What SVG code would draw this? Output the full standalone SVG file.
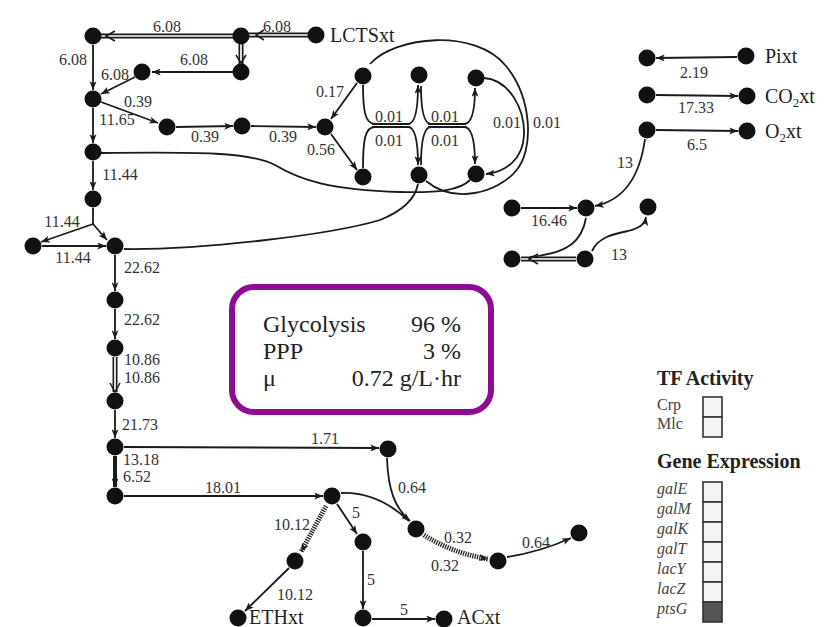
<svg xmlns="http://www.w3.org/2000/svg" width="830" height="627" viewBox="0 0 830 627">
<defs>
<marker id="ah" viewBox="0 0 10 8" refX="10" refY="4" markerWidth="9" markerHeight="7" markerUnits="userSpaceOnUse" orient="auto">
<path d="M0,0 L10,4 L0,8 L2.5,4 z" fill="#1a1a1a"/>
</marker>
<style>
.lbl{font-family:"Liberation Serif",serif;font-size:16px;fill:#333;text-anchor:middle}
.name{font-family:"Liberation Serif",serif;font-size:20px;fill:#222}
.ln{fill:none;stroke:#1a1a1a;stroke-width:1.8}
.arr{marker-end:url(#ah)}
.dblo{fill:none;stroke:#1a1a1a;stroke-width:5}
.dbli{fill:none;stroke:#fff;stroke-width:1.7}
.chev{fill:none;stroke:#1a1a1a;stroke-width:1.5}
.thick{fill:none;stroke:#1a1a1a;stroke-width:4}
.hat{fill:none;stroke:#222;stroke-width:5;stroke-dasharray:1.3 1.1}
.nd{fill:#111}
.box{font-family:"Liberation Serif",serif;font-size:24px;fill:#222}
.lgt{font-family:"Liberation Serif",serif;font-size:20px;font-weight:bold;fill:#222}
.lgl{font-family:"Liberation Serif",serif;font-size:16px;fill:#444}
.lgi{font-family:"Liberation Serif",serif;font-size:16px;font-style:italic;fill:#444}
.cell{fill:#f4f4f4;stroke:#333;stroke-width:1.6}
</style>
</defs>
<rect width="830" height="627" fill="#fff"/>

<g id="connectors">
<path class="dblo" d="M249,35 L308,35"/><path class="dbli" d="M249,35 L308,35"/>
<polyline class="chev" points="264,30 256,35 264,40"/>
<path class="dblo" d="M101,36 L233,36"/><path class="dbli" d="M101,36 L233,36"/>
<polyline class="chev" points="115,31 106,36 115,41"/>
<path class="dblo" d="M241,44 L241,64"/><path class="dbli" d="M241,44 L241,64"/>
<polyline class="chev" points="236,55 241,63 246,55"/>
<path class="dblo" d="M115,357 L115,392"/><path class="dbli" d="M115,357 L115,392"/>
<polyline class="chev" points="110,383 115,392 120,383"/>
<path class="dblo" d="M521,259 L576,259"/><path class="dbli" d="M521,259 L576,259"/>
<polyline class="chev" points="538,254 529,259 538,264"/>

<path class="ln arr" d="M233,72 L152,72"/>
<path class="ln arr" d="M135,77 L101,94"/>
<path class="ln arr" d="M93,45 L93,90"/>
<path class="ln arr" d="M101,102 L158,123"/>
<path class="ln arr" d="M176,127 L233,126"/>
<path class="ln arr" d="M251,126 L316,127"/>
<path class="ln arr" d="M93,108 L93,143"/>
<path class="ln arr" d="M93,161 L93,190"/>
<path class="ln" d="M93,208 L93,224"/>
<path class="ln arr" d="M93,224 L41,242"/>
<path class="ln arr" d="M93,224 L107,240"/>
<path class="ln arr" d="M42,246 L106,246"/>
<path class="ln arr" d="M115,255 L115,291"/>
<path class="ln arr" d="M115,309 L115,339"/>
<path class="ln arr" d="M115,410 L115,438"/>
<path class="thick arr" d="M115,456 L115,487"/>
<path class="ln arr" d="M124,447 L379,448"/>
<path class="ln arr" d="M124,496 L323,496"/>
<path class="ln arr" d="M337,504 L357,534"/>
<path class="ln arr" d="M289,568 L245,611"/>
<path class="ln arr" d="M363,551 L363,609"/>
<path class="ln arr" d="M372,619 L435,619"/>
<path class="ln arr" d="M357,83 L331,119"/>
<path class="ln arr" d="M331,134 L357,170"/>
<path class="ln arr" d="M737,57 L656,58"/>
<path class="ln arr" d="M656,95 L738,96"/>
<path class="ln arr" d="M656,130 L738,131"/>
<path class="ln arr" d="M521,208 L577,208"/>

<path class="hat arr" d="M326,506 L301,552"/>
<path class="hat arr" d="M424,535 Q452,553 488,559"/>

<path class="ln arr" d="M387,458 C388,490 395,508 410,521"/>
<path class="ln" d="M341,493 C370,492 392,505 409,521"/>
<path class="ln arr" d="M507,557 Q540,552 571,538"/>
<path class="ln" d="M101,153 C200,152 250,152 275,165 C300,180 330,190 400,192 C440,193 460,190 470,180"/>
<path class="ln" d="M124,249 C200,250 330,235 380,220 C400,212 415,200 418,184"/>
<path class="ln" d="M370,64 C395,36 475,28 506,66 C532,98 535,150 515,172 C497,192 455,205 426,181"/>
<path class="ln arr" d="M484,78 C510,80 525,110 524,135 C523,160 505,172 486,174"/>
<path class="ln arr" d="M645,139 C640,175 625,200 595,206"/>
<path class="ln" d="M586,218 C582,240 570,253 530,257"/>
<path class="ln arr" d="M592,251 C598,238 612,234 628,231 C640,228 645,224 646,217"/>

<path class="ln" d="M363,85 C363,110 365,124 375,124"/>
<path class="ln" d="M363,168 C363,140 365,127 375,127"/>
<path class="ln" d="M372,124 L410,124 M372,127 L410,127"/>
<path class="ln arr" d="M408,124 C415,124 418,110 418,85"/>
<path class="ln arr" d="M408,127 C415,127 418,140 418,165"/>
<path class="ln" d="M431,124 C424,124 421,110 421,86"/>
<path class="ln" d="M431,127 C424,127 421,140 421,165"/>
<path class="ln" d="M428,124 L466,124 M428,127 L466,127"/>
<path class="ln arr" d="M464,124 C472,124 475,110 475,88"/>
<path class="ln arr" d="M464,127 C472,127 475,140 475,164"/>
</g>

<g id="labels">
<text class="lbl" x="167" y="32">6.08</text>
<text class="lbl" x="277" y="32">6.08</text>
<text class="lbl" x="73" y="65">6.08</text>
<text class="lbl" x="194" y="65">6.08</text>
<text class="lbl" x="115" y="80">6.08</text>
<text class="lbl" x="138" y="107">0.39</text>
<text class="lbl" x="117" y="125">11.65</text>
<text class="lbl" x="205" y="142">0.39</text>
<text class="lbl" x="283" y="142">0.39</text>
<text class="lbl" x="120" y="180">11.44</text>
<text class="lbl" x="330" y="97">0.17</text>
<text class="lbl" x="321" y="155">0.56</text>
<text class="lbl" x="389" y="122">0.01</text>
<text class="lbl" x="389" y="146">0.01</text>
<text class="lbl" x="445" y="122">0.01</text>
<text class="lbl" x="445" y="146">0.01</text>
<text class="lbl" x="507" y="128">0.01</text>
<text class="lbl" x="547" y="128">0.01</text>
<text class="lbl" x="694" y="78">2.19</text>
<text class="lbl" x="696" y="113">17.33</text>
<text class="lbl" x="697" y="150">6.5</text>
<text class="lbl" x="625" y="168">13</text>
<text class="lbl" x="549" y="226">16.46</text>
<text class="lbl" x="619" y="260">13</text>
<text class="lbl" x="62" y="227">11.44</text>
<text class="lbl" x="73" y="263">11.44</text>
<text class="lbl" x="142" y="273">22.62</text>
<text class="lbl" x="142" y="325">22.62</text>
<text class="lbl" x="142" y="365">10.86</text>
<text class="lbl" x="142" y="383">10.86</text>
<text class="lbl" x="140" y="430">21.73</text>
<text class="lbl" x="141" y="465">13.18</text>
<text class="lbl" x="137" y="482">6.52</text>
<text class="lbl" x="325" y="444">1.71</text>
<text class="lbl" x="223" y="493">18.01</text>
<text class="lbl" x="412" y="493">0.64</text>
<text class="lbl" x="356" y="518">5</text>
<text class="lbl" x="292" y="530">10.12</text>
<text class="lbl" x="295" y="600">10.12</text>
<text class="lbl" x="371" y="585">5</text>
<text class="lbl" x="404" y="615">5</text>
<text class="lbl" x="458" y="543">0.32</text>
<text class="lbl" x="445" y="571">0.32</text>
<text class="lbl" x="536" y="548">0.64</text>
<text class="name" x="330" y="42">LCTSxt</text>
<text class="name" x="765" y="63">Pixt</text>
<text class="name" x="765" y="103">CO<tspan font-size="13" dy="4">2</tspan><tspan dy="-4">xt</tspan></text>
<text class="name" x="765" y="138">O<tspan font-size="13" dy="4">2</tspan><tspan dy="-4">xt</tspan></text>
<text class="name" x="249" y="624">ETHxt</text>
<text class="name" x="457" y="624">ACxt</text>
</g>

<g id="n1"><circle class="nd" cx="93" cy="36" r="8.5"/></g>
<g id="n2"><circle class="nd" cx="93" cy="99" r="8.5"/></g>
<g id="n3"><circle class="nd" cx="93" cy="152" r="8.5"/></g>
<g id="n4"><circle class="nd" cx="93" cy="199" r="8.5"/></g>
<g id="n5"><circle class="nd" cx="33" cy="246" r="8.5"/></g>
<g id="n6"><circle class="nd" cx="115" cy="246" r="8.5"/></g>
<g id="n7"><circle class="nd" cx="115" cy="300" r="8.5"/></g>
<g id="n8"><circle class="nd" cx="115" cy="348" r="8.5"/></g>
<g id="n9"><circle class="nd" cx="115" cy="401" r="8.5"/></g>
<g id="n10"><circle class="nd" cx="115" cy="447" r="8.5"/></g>
<g id="n11"><circle class="nd" cx="115" cy="496" r="8.5"/></g>
<g id="n12"><circle class="nd" cx="241" cy="36" r="8.5"/></g>
<g id="n13"><circle class="nd" cx="241" cy="72" r="8.5"/></g>
<g id="n14"><circle class="nd" cx="142" cy="72" r="8.5"/></g>
<g id="lctsxt"><circle class="nd" cx="316" cy="35" r="8.5"/></g>
<g id="n15"><circle class="nd" cx="167" cy="127" r="8.5"/></g>
<g id="n16"><circle class="nd" cx="242" cy="126" r="8.5"/></g>
<g id="n17"><circle class="nd" cx="325" cy="127" r="8.5"/></g>
<g id="pa"><circle class="nd" cx="363" cy="76" r="8.5"/></g>
<g id="pb"><circle class="nd" cx="419" cy="75" r="8.5"/></g>
<g id="pc"><circle class="nd" cx="476" cy="78" r="8.5"/></g>
<g id="pd"><circle class="nd" cx="363" cy="177" r="8.5"/></g>
<g id="pe"><circle class="nd" cx="419" cy="175" r="8.5"/></g>
<g id="pf"><circle class="nd" cx="476" cy="174" r="8.5"/></g>
<g id="p1"><circle class="nd" cx="647" cy="58" r="8.5"/></g>
<g id="pixt"><circle class="nd" cx="746" cy="56" r="8.5"/></g>
<g id="c1"><circle class="nd" cx="647" cy="95" r="8.5"/></g>
<g id="co2xt"><circle class="nd" cx="747" cy="96" r="8.5"/></g>
<g id="o1"><circle class="nd" cx="647" cy="130" r="8.5"/></g>
<g id="o2xt"><circle class="nd" cx="747" cy="131" r="8.5"/></g>
<g id="r1"><circle class="nd" cx="512" cy="208" r="8.5"/></g>
<g id="r2"><circle class="nd" cx="586" cy="208" r="8.5"/></g>
<g id="r3"><circle class="nd" cx="648" cy="207" r="8.5"/></g>
<g id="r4"><circle class="nd" cx="512" cy="259" r="8.5"/></g>
<g id="r5"><circle class="nd" cx="585" cy="259" r="8.5"/></g>
<g id="m1"><circle class="nd" cx="388" cy="449" r="8.5"/></g>
<g id="m2"><circle class="nd" cx="332" cy="496" r="8.5"/></g>
<g id="m3"><circle class="nd" cx="416" cy="529" r="8.5"/></g>
<g id="m4"><circle class="nd" cx="295" cy="561" r="8.5"/></g>
<g id="m5"><circle class="nd" cx="363" cy="542" r="8.5"/></g>
<g id="ethxt"><circle class="nd" cx="238" cy="618" r="8.5"/></g>
<g id="m6"><circle class="nd" cx="363" cy="618" r="8.5"/></g>
<g id="acxt"><circle class="nd" cx="444" cy="619" r="8.5"/></g>
<g id="m7"><circle class="nd" cx="498" cy="561" r="8.5"/></g>
<g id="m8"><circle class="nd" cx="579" cy="533" r="8.5"/></g>

<g id="summary">
<rect x="232" y="287" width="259" height="125" rx="22" fill="#fff" stroke="#8e0b93" stroke-width="6"/>
<text class="box" x="263" y="332">Glycolysis</text>
<text class="box" x="461" y="332" text-anchor="end">96 %</text>
<text class="box" x="263" y="359">PPP</text>
<text class="box" x="461" y="359" text-anchor="end">3 %</text>
<text class="box" x="263" y="386">μ</text>
<text class="box" x="461" y="386" text-anchor="end">0.72 g/L·hr</text>
</g>

<g id="legend">
<text class="lgt" x="657" y="385">TF Activity</text>
<text class="lgl" x="657" y="410">Crp</text>
<text class="lgl" x="657" y="429">Mlc</text>
<rect class="cell" x="703" y="397" width="19" height="20"/>
<rect class="cell" x="703" y="417" width="19" height="20"/>
<text class="lgt" x="657" y="468">Gene Expression</text>
<text class="lgi" x="657" y="494">galE</text>
<text class="lgi" x="657" y="514">galM</text>
<text class="lgi" x="657" y="534">galK</text>
<text class="lgi" x="657" y="554">galT</text>
<text class="lgi" x="657" y="574">lacY</text>
<text class="lgi" x="657" y="594">lacZ</text>
<text class="lgi" x="657" y="614">ptsG</text>
<rect class="cell" x="703" y="482" width="19" height="20"/>
<rect class="cell" x="703" y="502" width="19" height="20"/>
<rect class="cell" x="703" y="522" width="19" height="20"/>
<rect class="cell" x="703" y="542" width="19" height="20"/>
<rect class="cell" x="703" y="562" width="19" height="20"/>
<rect class="cell" x="703" y="582" width="19" height="20"/>
<rect x="703" y="602" width="19" height="20" fill="#555" stroke="#333" stroke-width="1.6"/>
</g>
</svg>
